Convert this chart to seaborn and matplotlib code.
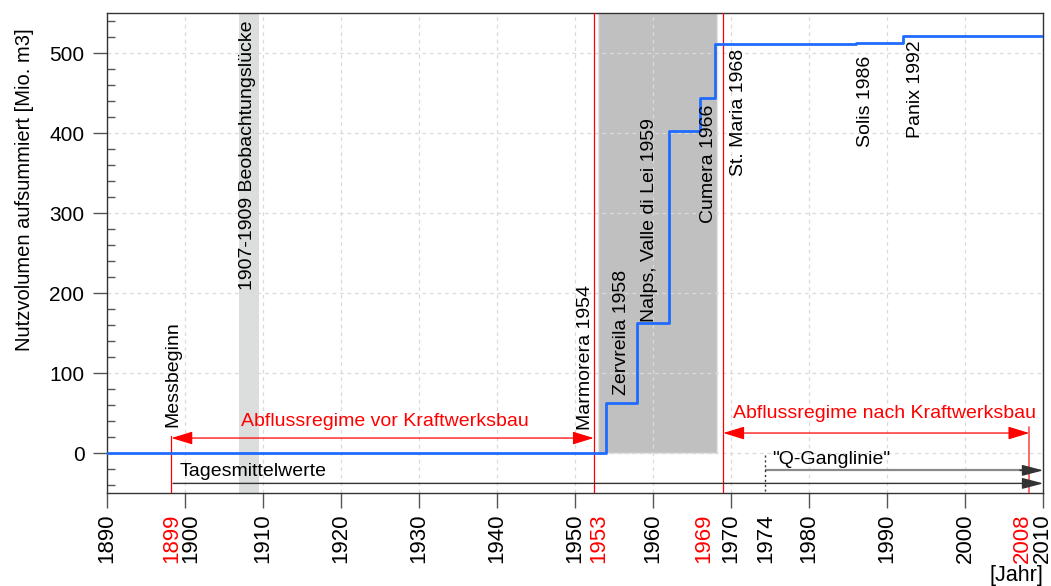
import numpy as np
import pandas as pd
import seaborn as sns
import matplotlib.pyplot as plt
from matplotlib.ticker import MultipleLocator
from matplotlib.patches import ArrowStyle
from matplotlib.transforms import ScaledTranslation

# Cumulative usable reservoir volume (Mio. m3), stepping up as dams go online
years = [1890, 1954, 1958, 1962, 1966, 1968, 1986, 1992, 2010]
volume = [0, 62.5, 162.5, 403, 444.5, 511, 512.5, 521, 521]

dam_names = ["Marmorera 1954", "Zervreila 1958", "Nalps, Valle di Lei 1959",
             "Cumera 1966", "St. Maria 1968", "Solis 1986", "Panix 1992"]
dam_label_x = [1951.3, 1956.0, 1959.6, 1967.1, 1970.9, 1987.2, 1993.6]
dam_label_y = [29, 73, 164.5, 287.5, 346, 383, 394]

# Periods
regime_start = 1898.3
construction_start = 1952.4
construction_end = 1969.0
regime_end = 2008.2
ganglinie_start = 1974.4
gap_start, gap_end = 1906.9, 1909.55
build_start, build_end = 1953.0, 1968.2

major_years = list(range(1890, 2011, 10))
marked_years = [1899, 1953, 1969, 1974, 2008]
marked_colors = ["red", "red", "red", "black", "red"]

sns.set_theme(style="ticks")
plt.rcParams["font.family"] = ["Liberation Sans", "DejaVu Sans"]
plt.rcParams["text.color"] = "black"
plt.rcParams["axes.labelcolor"] = "black"

fig, ax = plt.subplots(figsize=(10.51, 5.86), dpi=100)
fig.subplots_adjust(left=0.1015, right=0.9927, top=0.9773, bottom=0.1587)

# shaded periods
ax.axvspan(gap_start, gap_end, color="#dcdddd", lw=0, zorder=0.2)
ax.fill_between([build_start, build_end], 0, 550, facecolor="#c0c0c0",
                edgecolor="#e6e6e6", lw=1, zorder=0.2)

df = pd.DataFrame({"Jahr": years, "Volumen": volume})
sns.lineplot(data=df, x="Jahr", y="Volumen", drawstyle="steps-post",
             color="#1f6bff", lw=2, ax=ax, zorder=5)

ax.set_xlim(1890, 2010)
ax.set_ylim(-50, 550)
ax.grid(True, which="major", ls=(0, (3, 3)), color="#dadada", lw=0.9)

# red period boundaries
ax.axvline(construction_start, color="red", lw=0.9, zorder=4)
ax.axvline(construction_end, color="red", lw=0.9, zorder=4)
ax.plot([regime_start, regime_start], [-50, 21], color="red", lw=0.9, zorder=4)
ax.plot([regime_end, regime_end], [-50, 33], color="#ff5a5a", lw=1.3, zorder=4)

red_head = ArrowStyle("<|-|>", head_length=0.65, head_width=0.2)
ax.annotate("", xy=(construction_start, 18.75), xytext=(regime_start, 18.75),
            arrowprops=dict(arrowstyle=red_head, color="red", lw=0.9,
                            shrinkA=0, shrinkB=0, mutation_scale=20), zorder=6)
ax.annotate("", xy=(regime_end, 25), xytext=(construction_end, 25),
            arrowprops=dict(arrowstyle=red_head, color="red", lw=0.9,
                            shrinkA=0, shrinkB=0, mutation_scale=20), zorder=6)
ax.text(1925.7, 39.5, "Abflussregime vor Kraftwerksbau", color="red",
        fontsize=14, ha="center", va="center")
ax.text(1989.6, 50, "Abflussregime nach Kraftwerksbau", color="red",
        fontsize=14, ha="center", va="center")

# data series arrows
dark_head = ArrowStyle("-|>", head_length=0.65, head_width=0.17)
ax.annotate("", xy=(2010, -38), xytext=(1898.5, -38),
            arrowprops=dict(arrowstyle=dark_head, edgecolor="#333333",
                            facecolor="#333333", lw=1.0, shrinkA=0, shrinkB=0,
                            mutation_scale=20), zorder=6, annotation_clip=False)
ax.plot([ganglinie_start, 2008.5], [-21.7, -21.7], color="#8a8a8a", lw=1.6,
        solid_capstyle="butt", zorder=6)
ax.annotate("", xy=(2010, -21.7), xytext=(2007.0, -21.7),
            arrowprops=dict(arrowstyle=dark_head, edgecolor="#333333",
                            facecolor="#333333", lw=1.0, shrinkA=0, shrinkB=0,
                            mutation_scale=20), zorder=6, annotation_clip=False)
ax.plot([ganglinie_start, ganglinie_start], [-2, -50], ls=(0, (1.5, 2)),
        color="#333333", lw=1.0, zorder=6)
ax.text(1899.4, -23, "Tagesmittelwerte", fontsize=14, ha="left", va="center")
ax.text(1975.2, -8.5, "\"Q-Ganglinie\"", fontsize=14, ha="left", va="center")

# vertical labels
for name, x, y in zip(dam_names, dam_label_x, dam_label_y):
    ax.text(x, y, name, rotation=90, fontsize=14, ha="center", va="bottom", zorder=7)
ax.text(1898.5, 33, "Messbeginn", rotation=90, fontsize=14, ha="center", va="bottom")
ax.text(1908.1, 204, "1907-1909 Beobachtungslücke", rotation=90, fontsize=14,
        ha="center", va="bottom")

# axes, ticks
for s in ax.spines.values():
    s.set_color("#333333")
    s.set_linewidth(1.0)

ax.set_xticks(major_years)
ax.set_xticklabels([str(y) for y in major_years])
ax.set_xticks(marked_years, minor=True)
ax.set_xticklabels([str(y) for y in marked_years], minor=True)
ax.set_yticks(range(0, 501, 100))
ax.yaxis.set_minor_locator(MultipleLocator(20))

ax.tick_params(axis="x", which="major", direction="out", length=11, width=1,
               color="#555555", labelcolor="black", labelsize=16,
               labelrotation=90, pad=4)
ax.tick_params(axis="x", which="minor", length=0, labelsize=16,
               labelrotation=90, pad=15)
ax.tick_params(axis="y", which="major", direction="out", length=10, width=1,
               color="#555555", labelcolor="black", labelsize=15, pad=6)
ax.tick_params(axis="y", which="minor", direction="in", length=6, width=1,
               color="#555555")

shift_px = {1899: -5.5, 1969: -19.3, 1974: 3.4, 2008: -5.5}
for lab, yr, col in zip(ax.get_xticklabels(minor=True), marked_years, marked_colors):
    lab.set_color(col)
    dx = shift_px.get(yr, 0)
    lab.set_transform(lab.get_transform() + ScaledTranslation(dx / 100, 0, fig.dpi_scale_trans))
major_shift_px = {1900: 6.0, 2010: -1.0}
for lab, yr in zip(ax.get_xticklabels(), major_years):
    dx = major_shift_px.get(yr, 0)
    if dx:
        lab.set_transform(lab.get_transform() + ScaledTranslation(dx / 100, 0, fig.dpi_scale_trans))

ax.set_xlabel("")
ax.set_ylabel("Nutzvolumen aufsummiert [Mio. m3]", fontsize=14.5, labelpad=8)
ax.yaxis.set_label_coords(-0.078, 0.632)
ax.text(1.0, -0.172, "[Jahr]", transform=ax.transAxes, fontsize=15.5,
        ha="right", va="center")

fig.savefig("out.png", dpi=100)
